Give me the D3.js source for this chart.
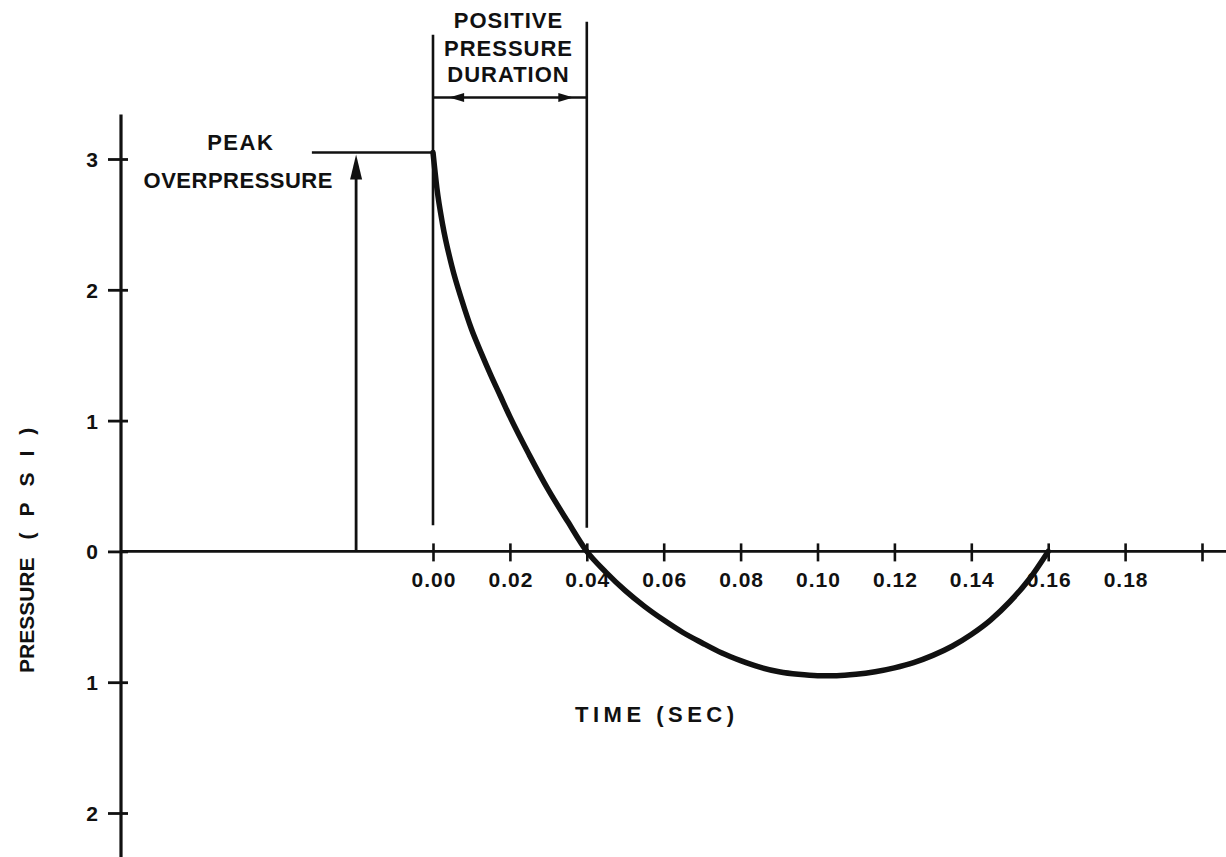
<!DOCTYPE html>
<html>
  <head>
    <meta charset="utf-8">
    <script src="https://d3js.org/d3.v7.min.js"></script>
    <style>
      body { margin: 0; background: #fff; }
      text { font-family: "Liberation Sans", Arial, sans-serif; font-weight: bold; fill: #111; }
    </style>
  </head>
  <body>
    <div id="chart"></div>
    <script>
      // pressure-time curve
      const times = [0, 0.001, 0.0025, 0.005, 0.0075, 0.01, 0.0125, 0.015, 0.0175, 0.02, 0.025, 0.03, 0.035, 0.04,
        0.045, 0.05, 0.055, 0.06, 0.065, 0.07, 0.075, 0.08, 0.085, 0.09, 0.095, 0.1, 0.105, 0.11,
        0.115, 0.12, 0.125, 0.13, 0.135, 0.14, 0.145, 0.15, 0.155, 0.16];
      const pressures = [3.05, 2.78, 2.5, 2.17, 1.92, 1.7, 1.52, 1.35, 1.19, 1.03, 0.74, 0.47, 0.23, 0,
        -0.16, -0.3, -0.42, -0.525, -0.62, -0.7, -0.775, -0.835, -0.885, -0.92, -0.94, -0.95, -0.95, -0.94,
        -0.92, -0.89, -0.85, -0.795, -0.725, -0.635, -0.525, -0.385, -0.215, 0];

      const xTicks = [0, 0.02, 0.04, 0.06, 0.08, 0.1, 0.12, 0.14, 0.16, 0.18, 0.2];
      const xTickLabels = ["0.00", "0.02", "0.04", "0.06", "0.08", "0.10", "0.12", "0.14", "0.16", "0.18", ""];
      const yTicks = [3, 2, 1, 0, -1, -2];

      const peakTime = -0.02;
      const peakPressure = 3.05;
      const peakLineStart = -0.0315;
      const durationStart = 0;
      const durationEnd = 0.04;

      const width = 1226;
      const height = 857;

      const x = d3.scaleLinear().domain([0, 0.2]).range([433, 1202]);
      const y = d3.scaleLinear().domain([-2, 3]).range([813, 159]);

      const svg = d3
        .select("#chart")
        .append("svg")
        .attr("width", width)
        .attr("height", height);

      // axes lines
      const axisLeftX = x.invert(121);
      svg.append("line")
        .attr("x1", 121).attr("x2", 121)
        .attr("y1", y(3.34)).attr("y2", height)
        .attr("stroke", "#111").attr("stroke-width", 3.2);
      svg.append("line")
        .attr("x1", x(axisLeftX)).attr("x2", width)
        .attr("y1", y(0)).attr("y2", y(0))
        .attr("stroke", "#111").attr("stroke-width", 2.8);

      // x axis ticks and labels
      const xAxis = svg.append("g")
        .attr("transform", `translate(0,${y(0)})`)
        .call(d3.axisBottom(x).tickValues(xTicks).tickFormat((d, i) => xTickLabels[i]).tickSize(10));
      xAxis.select(".domain").remove();
      xAxis.selectAll("line").attr("y1", -8).attr("y2", 10).attr("stroke", "#111").attr("stroke-width", 2.6);
      xAxis.selectAll("text")
        .attr("y", 36).attr("dy", null).attr("dx", 0.5)
        .style("font-size", "21px").style("letter-spacing", "1px").attr("fill", "#111");

      // y axis ticks and labels
      const yAxis = svg.append("g")
        .attr("transform", "translate(121,0)")
        .call(d3.axisLeft(y).tickValues(yTicks).tickFormat(d => Math.abs(d)).tickSize(13));
      yAxis.select(".domain").remove();
      yAxis.selectAll("line").attr("x1", -13).attr("x2", 7).attr("stroke", "#111").attr("stroke-width", 2.8);
      yAxis.selectAll("text")
        .attr("x", -23).attr("dy", "0.36em")
        .style("font-size", "21px").attr("fill", "#111");

      // duration lines
      svg.append("line")
        .attr("x1", x(durationStart)).attr("x2", x(durationStart))
        .attr("y1", y(3.95)).attr("y2", y(0.2))
        .attr("stroke", "#111").attr("stroke-width", 2.6);
      svg.append("line")
        .attr("x1", x(durationEnd)).attr("x2", x(durationEnd))
        .attr("y1", y(4.05)).attr("y2", y(0.18))
        .attr("stroke", "#111").attr("stroke-width", 2.6);

      // duration double arrow
      const arrowY = y(3.47);
      svg.append("line")
        .attr("x1", x(durationStart)).attr("x2", x(durationEnd))
        .attr("y1", arrowY).attr("y2", arrowY)
        .attr("stroke", "#111").attr("stroke-width", 2.4);
      const headL = x(0.0042), headR = x(0.0365);
      svg.append("path")
        .attr("d", `M${headL},${arrowY} L${headL + 15},${arrowY - 4.5} L${headL + 15},${arrowY + 4.5} Z`)
        .attr("fill", "#111");
      svg.append("path")
        .attr("d", `M${headR},${arrowY} L${headR - 15},${arrowY - 4.5} L${headR - 15},${arrowY + 4.5} Z`)
        .attr("fill", "#111");

      // peak overpressure
      svg.append("line")
        .attr("x1", x(peakLineStart)).attr("x2", x(0))
        .attr("y1", y(peakPressure)).attr("y2", y(peakPressure))
        .attr("stroke", "#111").attr("stroke-width", 2.6);
      svg.append("line")
        .attr("x1", x(peakTime)).attr("x2", x(peakTime))
        .attr("y1", y(0)).attr("y2", y(peakPressure) + 20)
        .attr("stroke", "#111").attr("stroke-width", 2.8);
      const tipX = x(peakTime), tipY = y(peakPressure) + 2;
      svg.append("path")
        .attr("d", `M${tipX},${tipY} L${tipX - 6},${tipY + 25} L${tipX + 6},${tipY + 25} Z`)
        .attr("fill", "#111");

      // curve
      const line = d3.line()
        .x((d, i) => x(times[i]))
        .y(d => y(d))
        .curve(d3.curveMonotoneX);
      svg.append("path")
        .datum(pressures)
        .attr("d", line)
        .attr("fill", "none")
        .attr("stroke", "#111")
        .attr("stroke-width", 5.5)
        .attr("stroke-linecap", "round");

      // labels
      const label = (txt, cx, by, spacing) =>
        svg.append("text")
          .attr("x", cx).attr("y", by)
          .attr("text-anchor", "middle")
          .attr("dx", spacing / 2)
          .style("font-size", "22px")
          .style("letter-spacing", spacing + "px")
          .text(txt);

      label("POSITIVE", 508, 28, 1);
      label("PRESSURE", 508, 56, 1);
      label("DURATION", 508, 82, 1);
      label("PEAK", 240, 150, 1.5);
      label("OVERPRESSURE", 238, 188, 0.5);

      svg.append("text")
        .attr("x", 575).attr("y", 722)
        .style("font-size", "22px")
        .style("letter-spacing", "4.5px")
        .text("TIME (SEC)");

      const yLabel = svg.append("text")
        .attr("transform", "translate(34,673) rotate(-90)")
        .style("font-size", "21px");
      yLabel.append("tspan").text("PRESSURE");
      yLabel.append("tspan").attr("dx", 18).style("letter-spacing", "16px").text("(PSI)");
    </script>
  </body>
</html>
